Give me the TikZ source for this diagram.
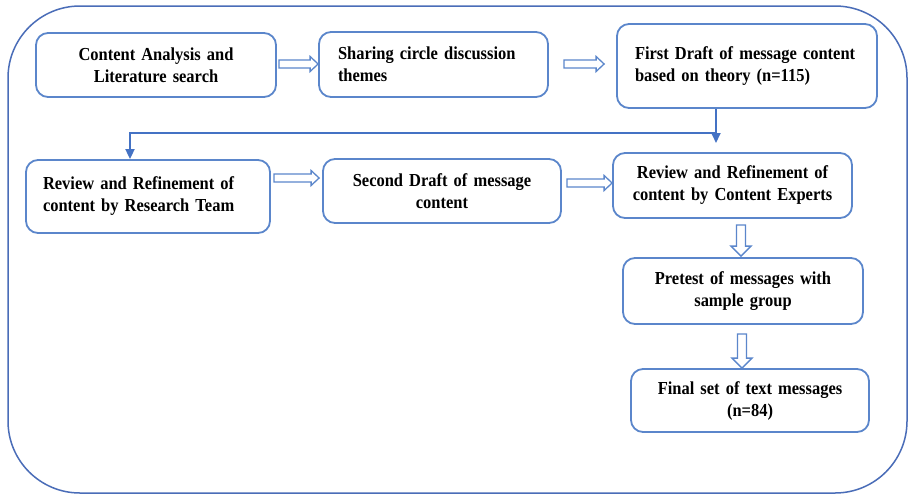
\documentclass[tikz,border=0pt]{standalone}
\usepackage{fontspec}
\setmainfont{Liberation Serif}[FakeStretch=0.9]
\usetikzlibrary{arrows.meta,calc}

\definecolor{boxblue}{HTML}{5B86CB}
\definecolor{frameblue}{HTML}{4A6DB8}
\definecolor{linkblue}{HTML}{4472C4}

% hollow horizontal block arrow: from node, to node, start gap, end gap, y
\newcommand{\hblock}[5]{%
  \draw[blockarrow] let \p1=(#1.east), \p2=(#2.west) in
    (\x1+#3pt,-#5pt+4pt) -- (\x2-#4pt-8pt,-#5pt+4pt) -- (\x2-#4pt-8pt,-#5pt+7.5pt)
    -- (\x2-#4pt,-#5pt) -- (\x2-#4pt-8pt,-#5pt-7.5pt) -- (\x2-#4pt-8pt,-#5pt-4pt)
    -- (\x1+#3pt,-#5pt-4pt) -- cycle;}
% hollow vertical block arrow: from node, to node, start gap, end gap, x
\newcommand{\vblock}[5]{%
  \draw[blockarrow] let \p1=(#1.south), \p2=(#2.north) in
    (#5pt-4.5pt,\y1-#3pt) -- (#5pt-4.5pt,\y2+#4pt+10pt) -- (#5pt-10pt,\y2+#4pt+10pt)
    -- (#5pt,\y2+#4pt) -- (#5pt+10pt,\y2+#4pt+10pt) -- (#5pt+4.5pt,\y2+#4pt+10pt)
    -- (#5pt+4.5pt,\y1-#3pt) -- cycle;}

\tikzset{
  stepbox/.style={draw=boxblue, line width=1.8pt, rounded corners=12pt,
    fill=white, inner sep=0pt,
    font=\bfseries\fontsize{18.3}{22}\selectfont},
  leftbox/.style={stepbox, align=left},
  midbox/.style={stepbox, align=center},
  blockarrow/.style={draw=boxblue, line width=1.3pt, fill=white, line join=miter},
  linkarrow/.style={draw=linkblue, line width=1.8pt,
    -{Triangle[length=10pt,width=9pt]}},
  frame/.style={draw=frameblue, line width=1.5pt, rounded corners=72pt},
}

\begin{document}
\hyphenpenalty=10000
\begin{tikzpicture}[x=1pt,y=-1pt]
  \useasboundingbox (0,0) rectangle (912,496);
  \fill[white] (0,0) rectangle (912,496);

  % outer rounded frame
  \draw[frame] (8,6) rectangle (907,493);

  % process steps
  \node[midbox, minimum width=240, minimum height=64, text width=230]
    (b1) at (156,65) {Content Analysis and\\Literature search};
  \node[leftbox, minimum width=229, minimum height=65, text width=191]
    (b2) at (433.5,64.5) {Sharing circle discussion\\themes};
  \node[leftbox, minimum width=260, minimum height=84, text width=224]
    (b3) at (747,66) {First Draft of message content\\based on theory (n=115)};
  \node[leftbox, minimum width=244, minimum height=73, text width=210]
    (b4) at (148,196.5) {Review and Refinement of\\content by Research Team};
  \node[midbox, minimum width=238, minimum height=64, text width=228]
    (b5) at (442,191) {Second Draft of message\\content};
  \node[midbox, minimum width=239, minimum height=65, text width=229]
    (b6) at (732.5,185.5) {Review and Refinement of\\content by Content Experts};
  \node[midbox, minimum width=240, minimum height=66, text width=230]
    (b7) at (743,291) {Pretest of messages with\\sample group};
  \node[midbox, minimum width=238, minimum height=63, text width=228]
    (b8) at (750,400.5) {Final set of text messages\\(n=84)};

  % hollow block arrows between steps
  \hblock{b1}{b2}{2}{0}{64}
  \hblock{b2}{b3}{15}{12}{64}
  \hblock{b4}{b5}{3}{3}{178}
  \hblock{b5}{b6}{5}{0}{183}
  \vblock{b6}{b7}{6}{1}{741}
  \vblock{b7}{b8}{9}{0}{742}

  % thin link from the first draft back to the research team
  \coordinate (drop) at (716,143);
  \coordinate (turn) at (716,133);
  \draw[linkarrow] (b3.south -| drop) -- (drop);
  \draw[linkarrow] (turn) -| ([xshift=-18pt]b4.north);
\end{tikzpicture}
\end{document}
